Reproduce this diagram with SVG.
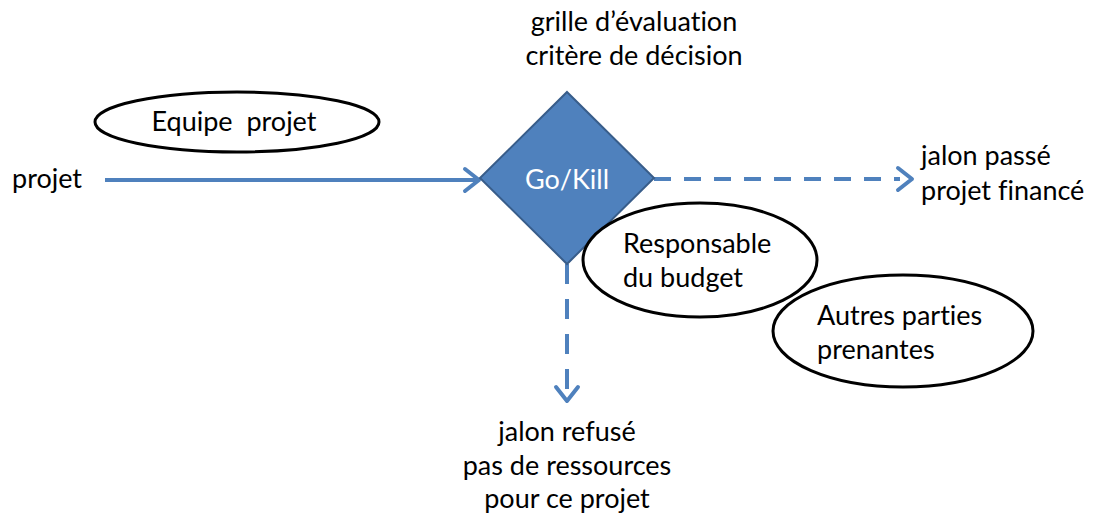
<svg xmlns="http://www.w3.org/2000/svg" width="1096" height="514" viewBox="0 0 1096 514">
<defs>
<style>
text{font-family:Lato,"Liberation Sans",sans-serif;font-size:27px;fill:#000;font-variant-ligatures:none}
.c{text-anchor:middle}
.ell{fill:#fff;stroke:#000;stroke-width:3}
.conn{stroke:#4F81BD;stroke-width:4;fill:none}
.head{stroke:#4F81BD;stroke-width:4;fill:none;stroke-linecap:round;stroke-linejoin:round}
</style>
</defs>
<rect width="1096" height="514" fill="#fff"/>
<g id="connectors">
<line class="conn" x1="105" y1="180" x2="478" y2="180"/>
<path class="head" d="M465 169 L479 180 L465 191"/>
<line class="conn" x1="654" y1="179" x2="900" y2="179" stroke-dasharray="17 13"/>
<path class="head" d="M898 168 L912 179 L898 190"/>
<line class="conn" x1="567" y1="264" x2="567" y2="398" stroke-dasharray="20 15"/>
<path class="head" d="M556 387 L567 401 L578 387"/>
</g>
<g id="label-projet"><text x="12" y="188">projet</text></g>
<g id="label-grille"><text class="c" x="634" y="31">grille d’évaluation</text><text class="c" x="634" y="65">critère de décision</text></g>
<g id="equipe"><ellipse class="ell" cx="237" cy="122" rx="142" ry="30"/><text class="c" x="234" y="131" xml:space="preserve">Equipe  projet</text></g>
<g id="gokill"><polygon points="567,92 654,178 567,264 480,178" fill="#4F81BD" stroke="#385D8A" stroke-width="2"/><text class="c" x="567" y="189" style="fill:#fff">Go/Kill</text></g>
<g id="label-passe"><text x="921" y="165">jalon passé</text><text x="921" y="200">projet financé</text></g>
<g id="responsable"><ellipse class="ell" cx="700" cy="260" rx="117" ry="57"/><text x="623" y="253">Responsable</text><text x="623" y="287">du budget</text></g>
<g id="autres"><ellipse class="ell" cx="903" cy="331" rx="130" ry="56"/><text x="817" y="325">Autres parties</text><text x="817" y="359">prenantes</text></g>
<g id="label-refuse"><text class="c" x="567" y="441">jalon refusé</text><text class="c" x="567" y="475">pas de ressources</text><text class="c" x="567" y="508">pour ce projet</text></g>
</svg>
